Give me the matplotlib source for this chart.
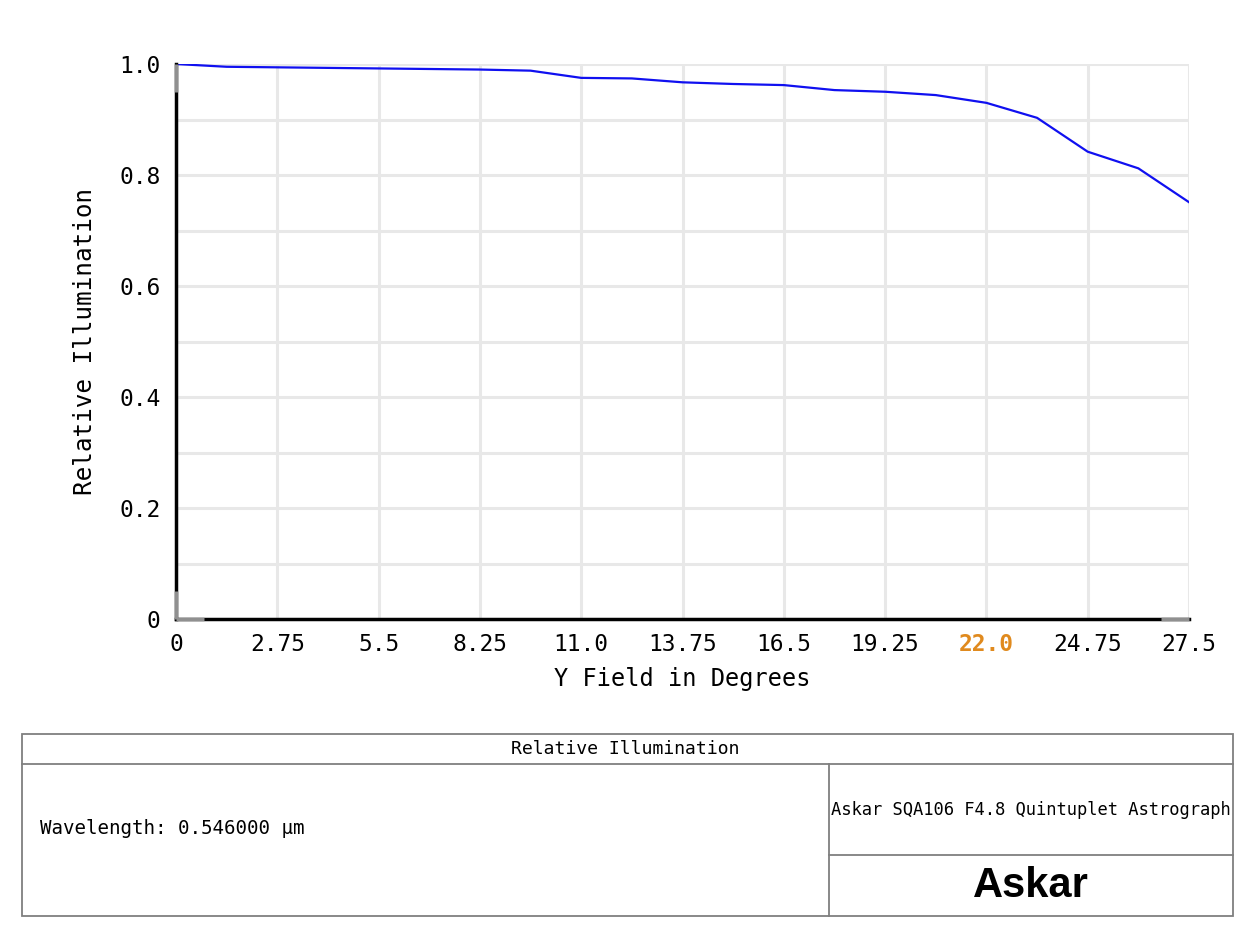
import matplotlib.pyplot as plt
from matplotlib.patches import Rectangle

# Relative illumination vs. field angle
field_deg = [0, 1.375, 2.75, 4.125, 5.5, 6.875, 8.25, 9.625, 11.0, 12.375, 13.75,
             15.125, 16.5, 17.875, 19.25, 20.625, 22.0, 23.375, 24.75, 26.125, 27.5]
rel_illum = [1.000, 0.995, 0.994, 0.993, 0.992, 0.991, 0.990, 0.988, 0.975, 0.974, 0.967,
             0.964, 0.962, 0.953, 0.950, 0.944, 0.930, 0.903, 0.842, 0.812, 0.751]

x_ticks = [0, 2.75, 5.5, 8.25, 11.0, 13.75, 16.5, 19.25, 22.0, 24.75, 27.5]
x_tick_labels = ["0", "2.75", "5.5", "8.25", "11.0", "13.75", "16.5", "19.25", "22.0", "24.75", "27.5"]
y_ticks = [0, 0.2, 0.4, 0.6, 0.8, 1.0]
y_tick_labels = ["0", "0.2", "0.4", "0.6", "0.8", "1.0"]
y_minor = [0.1, 0.3, 0.5, 0.7, 0.9]
highlight_tick = "22.0"

title_text = "Relative Illumination"
wavelength_text = "Wavelength: 0.546000 \u03bcm"
lens_text = "Askar SQA106 F4.8 Quintuplet Astrograph"
logo_text = "Askar"

MONO = "DejaVu Sans Mono"
W, H = 1251, 932

fig = plt.figure(figsize=(W / 100, H / 100), dpi=100)
ax = fig.add_axes([176 / W, 1 - 619 / H, (1189 - 176) / W, (619 - 64) / H])

ax.plot(field_deg, rel_illum, color="#1010f0", linewidth=1.6, zorder=3)
ax.set_xlim(0, 27.5)
ax.set_ylim(0, 1.0)

ax.set_xticks(x_ticks)
ax.set_xticklabels(x_tick_labels, family=MONO, fontsize=16.5)
ax.set_yticks(y_ticks)
ax.set_yticklabels(y_tick_labels, family=MONO, fontsize=16.5)
ax.set_yticks(y_minor, minor=True)
ax.tick_params(axis="both", which="both", length=0)
ax.tick_params(axis="x", pad=10)
ax.tick_params(axis="y", pad=11)
for lbl in ax.get_xticklabels():
    if lbl.get_text() == highlight_tick:
        lbl.set_color("#e08a1e")
        lbl.set_fontweight("bold")

ax.grid(True, which="both", color="#e8e8e8", linewidth=2.2, zorder=0)
ax.set_axisbelow(True)
for s in ["top", "right"]:
    ax.spines[s].set_visible(False)
for s in ["left", "bottom"]:
    ax.spines[s].set_linewidth(2.5)
    ax.spines[s].set_color("black")
    ax.spines[s].set_zorder(4)

# gray end caps on the axis lines
ycap, xcap = 0.05, 0.028
for y0, y1 in [(0, ycap), (1 - ycap, 1)]:
    ax.plot([0, 0], [y0, y1], transform=ax.transAxes, color="#909090", lw=2.5,
            clip_on=False, zorder=5, solid_capstyle="butt")
for x0, x1 in [(0, xcap), (1 - xcap, 1)]:
    ax.plot([x0, x1], [0, 0], transform=ax.transAxes, color="#909090", lw=2.5,
            clip_on=False, zorder=5, solid_capstyle="butt")

ax.set_xlabel("Y Field in Degrees", family=MONO, fontsize=17, labelpad=8)
ax.set_ylabel("Relative Illumination", family=MONO, fontsize=17.5, labelpad=16)

# info block at the bottom, drawn in pixel coordinates
tb = fig.add_axes([0, 0, 1, 1], zorder=-1)
tb.set_xlim(0, W)
tb.set_ylim(H, 0)
tb.axis("off")
edge = "#7f7f7f"
tb.add_patch(Rectangle((22, 734), 1211, 182, fill=False, edgecolor=edge, lw=1.3))
tb.plot([22, 1233], [764, 764], color=edge, lw=1.3)
tb.plot([829, 829], [764, 916], color=edge, lw=1.3)
tb.plot([829, 1233], [855, 855], color=edge, lw=1.3)

tb.text(625, 749, title_text, family=MONO, fontsize=13.1, ha="center", va="center")
tb.text(40, 828, wavelength_text, family=MONO, fontsize=13.8, ha="left", va="center")
tb.text(1031, 810, lens_text, family=MONO, fontsize=12.3, ha="center", va="center")
tb.text(1031, 886, logo_text, family="Liberation Sans", fontweight="bold",
        fontsize=30, ha="center", va="center")

fig.savefig("out.png", dpi=100)
